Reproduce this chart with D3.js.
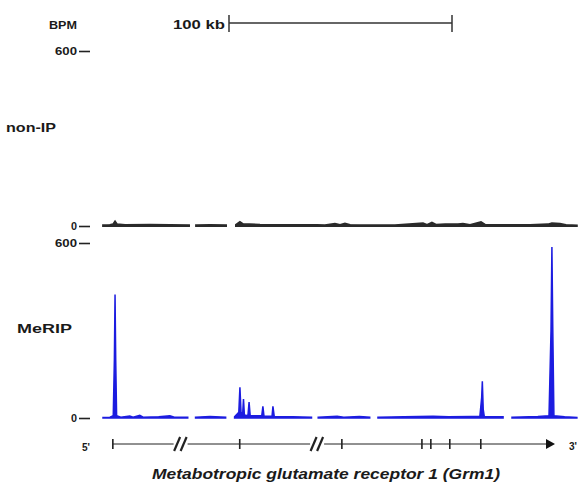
<!DOCTYPE html>
<html>
<head>
<meta charset="utf-8">
<script src="https://cdn.jsdelivr.net/npm/d3@7"></script>
<style>
  body { margin: 0; background: #fff; }
  text { font-family: "Liberation Sans", Arial, sans-serif; font-weight: bold; fill: #1a1a1a; }
</style>
</head>
<body>
<svg id="chart" width="587" height="486"></svg>
<script>
// genomic window (kb) and signal axis
const windowKb = [0, 213];
const bpmTicks = [0, 600];

// non-IP coverage (kb, BPM); null = no coverage
const nonipKb  = [0, 3.1, 4.5, 5.4, 6.3, 9.9, 21.1, 30.0, 38.6, 39.5, 41.7, 48.0, 55.2, 56.5, 59.6, 61.4, 62.8, 70.4, 83.9, 96.0, 99.5, 104.0, 106.3, 108.5, 110.8, 119.7, 130.9, 143.5, 145.3, 147.5, 149.3, 153.4, 159.2, 161.4, 164.6, 169.5, 171.3, 182.5, 191.5, 199.5, 201.3, 204.9, 207.6, 212.5];
const nonipBpm = [3, 4, 6, 16, 6, 4, 5, 4, 3, null, 3, 4, 3, null, 4, 14, 7, 5, 4, 4, 3, 8, 4, 9, 4, 3, 3, 10, 4, 12, 5, 6, 6, 8, 4, 14, 5, 4, 4, 6, 10, 8, 4, 2];

// MeRIP coverage (kb, BPM)
const meripKb  = [0, 3.1, 4.6, 5.1, 5.4, 5.7, 6.1, 8, 12, 13.5, 16.5, 18, 25, 30, 32, 38, 39.5, 41.5, 48, 55, 56.5, 59, 60.9, 61.4, 61.9, 62.6, 63.0, 63.4, 65, 65.5, 66, 71.2, 71.7, 72.2, 75.8, 76.2, 76.8, 85, 93.5, 95, 96.5, 105, 108, 115, 119.6, 121.4, 123.3, 135, 148, 155, 165, 169, 169.8, 170.1, 170.5, 171, 179.4, 181.4, 183.4, 195, 200, 200.9, 201.3, 201.7, 202.2, 207, 212.5];
const meripBpm = [2, 3, 8, 200, 423, 200, 8, 3, 7, 3, 9, 3, 4, 8, 3, 3, null, 3, 5, 3, null, 4, 20, 105, 20, 10, 65, 10, 8, 55, 8, 8, 40, 6, 6, 40, 5, 4, 3, null, 3, 6, 3, 5, 3, null, 3, 4, 6, 4, 5, 6, 70, 126, 30, 4, 4, null, 3, 5, 8, 300, 586, 300, 8, 4, 2];

// gene model of Grm1 (kb)
const geneSpanKb = [4.5, 202.7];
const exonKb = [4.5, 61.4, 107.2, 143.1, 147.1, 155.6, 169.5];
const breakKb = [34.8, 96.0];
const scaleBarKb = [56.5, 156.5];

const svg = d3.select('#chart');
const x = d3.scaleLinear().domain(windowKb).range([103, 578]);
const yNon = d3.scaleLinear().domain(bpmTicks).range([226, 51]);
const yMe = d3.scaleLinear().domain(bpmTicks).range([418, 243]);

function drawTrack(kb, bpm, y, color, sw) {
    const pts = kb.map((k, i) => ({k: k, v: bpm[i]}));
    const area = d3.area()
        .defined(d => d.v !== null)
        .x(d => x(d.k))
        .y0(y(0))
        .y1(d => y(d.v));
    svg.append('path')
        .datum(pts)
        .attr('d', area)
        .attr('fill', color)
        .attr('stroke', color)
        .attr('stroke-width', sw);
}

function drawAxis(y) {
    const g = svg.append('g')
        .attr('transform', 'translate(90,0)')
        .attr('color', '#222')
        .call(d3.axisLeft(y).tickValues(bpmTicks).tickSize(11).tickPadding(2));
    g.select('.domain').remove();
    g.selectAll('line').attr('stroke-width', 1.6);
    g.selectAll('text')
        .attr('font-size', 10)
        .attr('font-family', null)
        .attr('textLength', d => d === 0 ? 6 : 22)
        .attr('lengthAdjust', 'spacingAndGlyphs');
}

drawTrack(nonipKb, nonipBpm, yNon, '#2a2a2a', 1.8);
drawTrack(meripKb, meripBpm, yMe, '#1c1ce0', 1.5);
drawAxis(yNon);
drawAxis(yMe);

// track labels
function label(txt, x0, y0, size, len) {
    return svg.append('text').attr('x', x0).attr('y', y0).attr('font-size', size)
        .attr('textLength', len).attr('lengthAdjust', 'spacingAndGlyphs').text(txt);
}
label('BPM', 49, 29, 10, 28);
label('non-IP', 6, 132, 13, 50);
label('MeRIP', 17, 333, 13, 55);

// scale bar
const sb = svg.append('g').attr('stroke', '#333').attr('stroke-width', 1.5);
sb.append('line').attr('x1', x(scaleBarKb[0])).attr('x2', x(scaleBarKb[1])).attr('y1', 23).attr('y2', 23);
scaleBarKb.forEach(k => {
    sb.append('line').attr('x1', x(k)).attr('x2', x(k)).attr('y1', 15).attr('y2', 32);
});
label('100 kb', 173, 29, 13, 52);

// gene model
const gy = 444;
const gene = svg.append('g').attr('stroke', '#222');
gene.append('line').attr('x1', x(geneSpanKb[0])).attr('x2', x(geneSpanKb[1]) - 6)
    .attr('y1', gy).attr('y2', gy).attr('stroke-width', 1);
exonKb.forEach(k => {
    gene.append('rect').attr('x', x(k) - 1).attr('y', gy - 5).attr('width', 1.6).attr('height', 10)
        .attr('fill', '#222').attr('stroke', 'none');
});
const xe = x(geneSpanKb[1]);
gene.append('path').attr('d', `M${xe},${gy} L${xe - 9},${gy - 5} L${xe - 9},${gy + 5} Z`)
    .attr('fill', '#111').attr('stroke', 'none');
breakKb.forEach(k => {
    const xb = x(k);
    gene.append('rect').attr('x', xb - 7).attr('y', gy - 2).attr('width', 14).attr('height', 4)
        .attr('fill', '#fff').attr('stroke', 'none');
    [-3.5, 3].forEach(o => {
        gene.append('line').attr('x1', xb + o - 3).attr('y1', gy + 7).attr('x2', xb + o + 3).attr('y2', gy - 7)
            .attr('stroke-width', 2.2);
    });
});
label("5'", 82, 451, 11, 8);
label("3'", 569, 450, 11, 8);

svg.append('text').attr('x', 152).attr('y', 479)
    .attr('font-size', 14).attr('font-style', 'italic')
    .attr('textLength', 348).attr('lengthAdjust', 'spacingAndGlyphs')
    .text('Metabotropic glutamate receptor 1 (Grm1)');
</script>
</body>
</html>
